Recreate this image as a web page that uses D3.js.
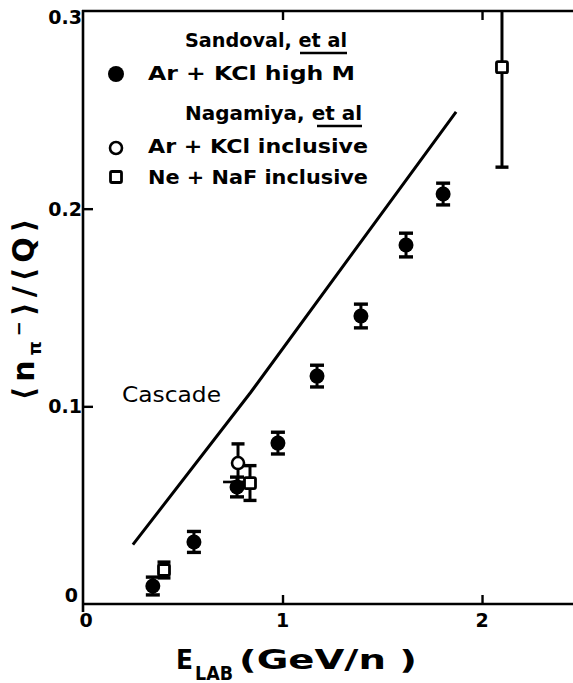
<!DOCTYPE html>
<html>
<head>
<meta charset="utf-8">
<script src="https://cdn.jsdelivr.net/npm/d3@7"></script>
<style>
  html, body { margin: 0; padding: 0; background: #fff; }
  svg { display: block; }
  text { font-family: "DejaVu Sans", "Liberation Sans", sans-serif; fill: #000; }
</style>
</head>
<body>
<svg id="chart" width="573" height="683"></svg>
<script>
// Negative pion multiplicity per participant charge vs beam energy
const xTicks = [1, 2];
const xTickLabels = ["0", "1", "2"];
const yTicks = [0, 0.1, 0.2, 0.3];
const yTickLabels = ["0", "0.1", "0.2", "0.3"];

// Sandoval et al, Ar + KCl high multiplicity (filled circles)
const sandovalE = [0.35, 0.556, 0.772, 0.977, 1.173, 1.393, 1.619, 1.805];
const sandovalR = [0.0091, 0.0314, 0.0592, 0.0814, 0.1153, 0.1457, 0.1816, 0.2074];
const sandovalErr = [0.0045, 0.0053, 0.005, 0.0055, 0.0055, 0.006, 0.006, 0.0055];
const sandovalEErr = [0, 0, 0.07, 0, 0, 0, 0, 0];

// Nagamiya et al, Ar + KCl inclusive (open circles)
const nagArE = [0.777];
const nagArR = [0.0713];
const nagArErr = [0.0097];

// Nagamiya et al, Ne + NaF inclusive (open squares)
const nagNeE = [0.406, 0.837, 2.10];
const nagNeR = [0.0172, 0.0612, 0.2716];
const nagNeErr = [0.004, 0.0088, 0.0506];

// Cascade calculation
const cascadeE = [0.25, 0.84, 1.87];
const cascadeR = [0.030, 0.107, 0.249];

const svg = d3.select("#chart");
const x = d3.scaleLinear().domain([0, 2.46]).range([83, 573.8]);
const y = d3.scaleLinear().domain([0, 0.3]).range([604, 11]);

const INK = "#000";

// clip for data marks
svg.append("defs").append("clipPath").attr("id", "plotClip")
  .append("rect").attr("x", x(0)).attr("y", y(0.3)).attr("width", 573 - x(0)).attr("height", y(0) - y(0.3));

// frame
const frame = svg.append("g").attr("stroke", INK).attr("stroke-width", 2.6).attr("fill", "none");
frame.append("line").attr("x1", x(0)).attr("x2", x(0)).attr("y1", y(0.3) - 1).attr("y2", y(0) + 8);
frame.append("line").attr("x1", x(0) - 1).attr("x2", 573).attr("y1", y(0)).attr("y2", y(0));
frame.append("line").attr("x1", x(0) - 1).attr("x2", 573).attr("y1", y(0.3)).attr("y2", y(0.3));

// axes (ticks point into the plot)
const bottomAxis = d3.axisBottom(x).tickValues(xTicks).tickSizeInner(-9).tickSizeOuter(0).tickFormat("");
const topAxis = d3.axisTop(x).tickValues(xTicks).tickSizeInner(-9).tickSizeOuter(0).tickFormat("");
const leftAxis = d3.axisLeft(y).tickValues([0.1, 0.2]).tickSizeInner(-10).tickSizeOuter(0).tickFormat("");

function styleAxis(g) {
  g.select(".domain").remove();
  g.selectAll(".tick line").attr("stroke", INK).attr("stroke-width", 2.4);
}
svg.append("g").attr("transform", `translate(0,${y(0)})`).call(bottomAxis).call(styleAxis);
svg.append("g").attr("transform", `translate(0,${y(0.3)})`).call(topAxis).call(styleAxis);
svg.append("g").attr("transform", `translate(${x(0)},0)`).call(leftAxis).call(styleAxis);

// tick labels
const tickFont = { size: 19, weight: "bold" };
svg.append("g").selectAll("text").data([0, 1, 2]).join("text")
  .attr("x", (d) => x(d) + (d === 0 ? 3 : 0))
  .attr("y", y(0) + 23)
  .attr("text-anchor", "middle")
  .attr("font-size", tickFont.size).attr("font-weight", tickFont.weight)
  .text((d, i) => xTickLabels[i]);

svg.append("g").selectAll("text").data(yTicks).join("text")
  .attr("x", (d) => d === 0 ? x(0) - 5 : x(0) - 1)
  .attr("y", (d) => Math.min(Math.max(y(d), 17), 595) + 7)
  .attr("text-anchor", "end")
  .attr("font-size", tickFont.size).attr("font-weight", tickFont.weight)
  .text((d, i) => yTickLabels[i]);

// axis titles
const xt = svg.append("g").attr("font-weight", "bold");
xt.append("text").attr("x", 176).attr("y", 669).attr("font-size", 26)
  .attr("textLength", 17).attr("lengthAdjust", "spacingAndGlyphs").text("E");
xt.append("text").attr("x", 195).attr("y", 680).attr("font-size", 19)
  .attr("textLength", 38).attr("lengthAdjust", "spacingAndGlyphs").text("LAB");
xt.append("text").attr("x", 239).attr("y", 669).attr("font-size", 26)
  .attr("textLength", 178).attr("lengthAdjust", "spacingAndGlyphs").text("(GeV/n )");

const yl = svg.append("text")
  .attr("transform", "translate(34,307) rotate(-90)")
  .attr("text-anchor", "middle")
  .attr("font-size", 30).attr("font-weight", "bold")
  .attr("letter-spacing", 5);
yl.append("tspan").text("\u27E8n");
yl.append("tspan").attr("font-size", 18).attr("dy", 7).text("\u03C0");
yl.append("tspan").attr("font-size", 18).attr("dy", -16).text("\u2212");
yl.append("tspan").attr("dy", 9).text("\u27E9/\u27E8Q\u27E9");

// cascade curve
const line = d3.line().x((d) => x(d[0])).y((d) => y(d[1]));
svg.append("path")
  .datum(cascadeE.map((e, i) => [e, cascadeR[i]]))
  .attr("d", line)
  .attr("fill", "none").attr("stroke", INK).attr("stroke-width", 3);
svg.append("text").attr("x", 122).attr("y", 402).attr("font-size", 21)
  .attr("textLength", 99).attr("lengthAdjust", "spacingAndGlyphs").text("Cascade");

// error bars
const marks = svg.append("g").attr("clip-path", "url(#plotClip)");
function errorBars(E, R, Err, capW) {
  const g = marks.append("g").attr("stroke", INK).attr("stroke-width", 3).attr("fill", "none");
  E.forEach((e, i) => {
    const cx = x(e), lo = y(R[i] - Err[i]), hi = y(R[i] + Err[i]);
    g.append("line").attr("x1", cx).attr("x2", cx).attr("y1", lo).attr("y2", hi);
    g.append("line").attr("x1", cx - capW / 2).attr("x2", cx + capW / 2).attr("y1", lo).attr("y2", lo).attr("stroke-width", 3.4);
    g.append("line").attr("x1", cx - capW / 2).attr("x2", cx + capW / 2).attr("y1", hi).attr("y2", hi).attr("stroke-width", 3.4);
  });
}
errorBars(sandovalE, sandovalR, sandovalErr, 14);
errorBars(nagArE, nagArR, nagArErr, 13);
errorBars(nagNeE, nagNeR, nagNeErr, 13);

// horizontal energy spread
marks.append("g").selectAll("line").data(sandovalE.map((e, i) => [e, sandovalR[i], sandovalEErr[i]]).filter((d) => d[2] > 0))
  .join("line")
  .attr("x1", (d) => x(d[0] - d[2])).attr("x2", (d) => x(d[0]))
  .attr("y1", (d) => y(d[1]) - 5).attr("y2", (d) => y(d[1]) - 5)
  .attr("stroke", INK).attr("stroke-width", 2.6);

// markers
marks.append("g").selectAll("circle").data(sandovalE).join("circle")
  .attr("cx", (d) => x(d)).attr("cy", (d, i) => y(sandovalR[i])).attr("r", 7.5)
  .attr("fill", INK);
marks.append("g").selectAll("circle").data(nagArE).join("circle")
  .attr("cx", (d) => x(d)).attr("cy", (d, i) => y(nagArR[i])).attr("r", 6)
  .attr("fill", "#fff").attr("stroke", INK).attr("stroke-width", 2.6);
marks.append("g").selectAll("rect").data(nagNeE).join("rect")
  .attr("x", (d) => x(d) - 5.5).attr("y", (d, i) => y(nagNeR[i]) - 5.5)
  .attr("width", 11).attr("height", 11).attr("rx", 1.5)
  .attr("fill", "#fff").attr("stroke", INK).attr("stroke-width", 2.8);

// legend
const lg = svg.append("g").attr("font-size", 20).attr("font-weight", "bold");
const adj = "spacingAndGlyphs";
lg.append("text").attr("x", 185).attr("y", 47).attr("textLength", 162).attr("lengthAdjust", adj).text("Sandoval, et al");
lg.append("line").attr("x1", 300).attr("x2", 347).attr("y1", 53).attr("y2", 53).attr("stroke", INK).attr("stroke-width", 2.4);
lg.append("circle").attr("cx", 116).attr("cy", 74).attr("r", 8).attr("fill", INK);
lg.append("text").attr("x", 148).attr("y", 80).attr("textLength", 207).attr("lengthAdjust", adj).text("Ar + KCl  high  M");

lg.append("text").attr("x", 185).attr("y", 120).attr("textLength", 177).attr("lengthAdjust", adj).text("Nagamiya, et al");
lg.append("line").attr("x1", 317).attr("x2", 362).attr("y1", 126).attr("y2", 126).attr("stroke", INK).attr("stroke-width", 2.4);
lg.append("circle").attr("cx", 116).attr("cy", 148).attr("r", 6).attr("fill", "#fff").attr("stroke", INK).attr("stroke-width", 2.6);
lg.append("text").attr("x", 148).attr("y", 153).attr("textLength", 220).attr("lengthAdjust", adj).text("Ar + KCl  inclusive");
lg.append("rect").attr("x", 110.5).attr("y", 171.5).attr("width", 11).attr("height", 11).attr("rx", 1.5)
  .attr("fill", "#fff").attr("stroke", INK).attr("stroke-width", 2.8);
lg.append("text").attr("x", 148).attr("y", 184).attr("textLength", 220).attr("lengthAdjust", adj).text("Ne + NaF  inclusive");
</script>
</body>
</html>
